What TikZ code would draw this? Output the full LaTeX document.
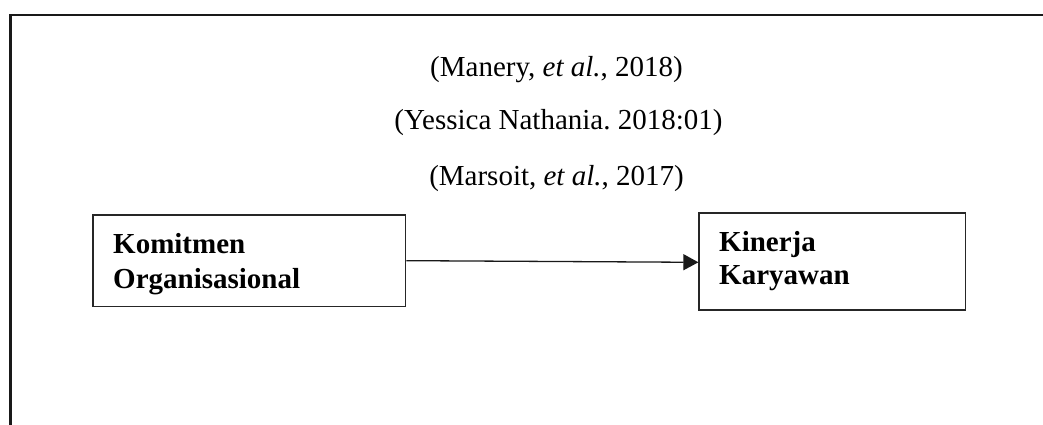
\documentclass[tikz,border=0pt]{standalone}
\usepackage{fontspec}
\setmainfont{Liberation Serif}
\usetikzlibrary{arrows.meta}
\frenchspacing
\tikzset{
  frameline/.style={line width=2.3pt, draw=black!90, line cap=rect},
  boxnode/.style={draw=black!85, line width=1.3pt, inner sep=0pt, rectangle},
  cite/.style={anchor=base, inner sep=0pt, font=\fontsize{29}{35}\selectfont},
  boxtext/.style={anchor=base west, inner sep=0pt, font=\fontsize{29}{35}\selectfont\bfseries},
  link/.style={line width=1.3pt, draw=black!90, -{Triangle[length=15pt,width=16pt]}}
}
\begin{document}
\begin{tikzpicture}[x=1pt,y=-1pt]
\useasboundingbox (0,0) rectangle (1043,424);
% outer frame (top and left sides)
\coordinate (fbl) at (10.6,424);
\coordinate (ftl) at (10.6,15);
\coordinate (ftr) at (1043,15);
\draw[frameline] (fbl) -- (ftl) -- (ftr);
% citations
\node[cite] (c1) at (556.5,76) {(Manery, \textit{et al.}, 2018)};
\node[cite] (c2) at (558.5,129.5) {(Yessica Nathania.\ 2018:01)};
\node[cite] (c3) at (556.5,185.7) {(Marsoit, \textit{et al.}, 2017)};
% boxes
\node[boxnode, minimum width=312.7pt, minimum height=91.7pt] (kom) at (249.35,260.85) {};
\node[boxnode, minimum width=266.7pt, minimum height=97pt] (kin) at (832.35,261.5) {};
\node[boxtext] (kom1) at (113,253) {Komitmen};
\node[boxtext] (kom2) at (113,288) {Organisasional};
\node[boxtext] (kin1) at (719,251.7) {Kinerja};
\node[boxtext] (kin2) at (719,284.5) {Karyawan};
% connector
\draw[link] ([yshift=0.2pt]kom.east) -- ([yshift=-0.8pt]kin.west);
\end{tikzpicture}
\end{document}
